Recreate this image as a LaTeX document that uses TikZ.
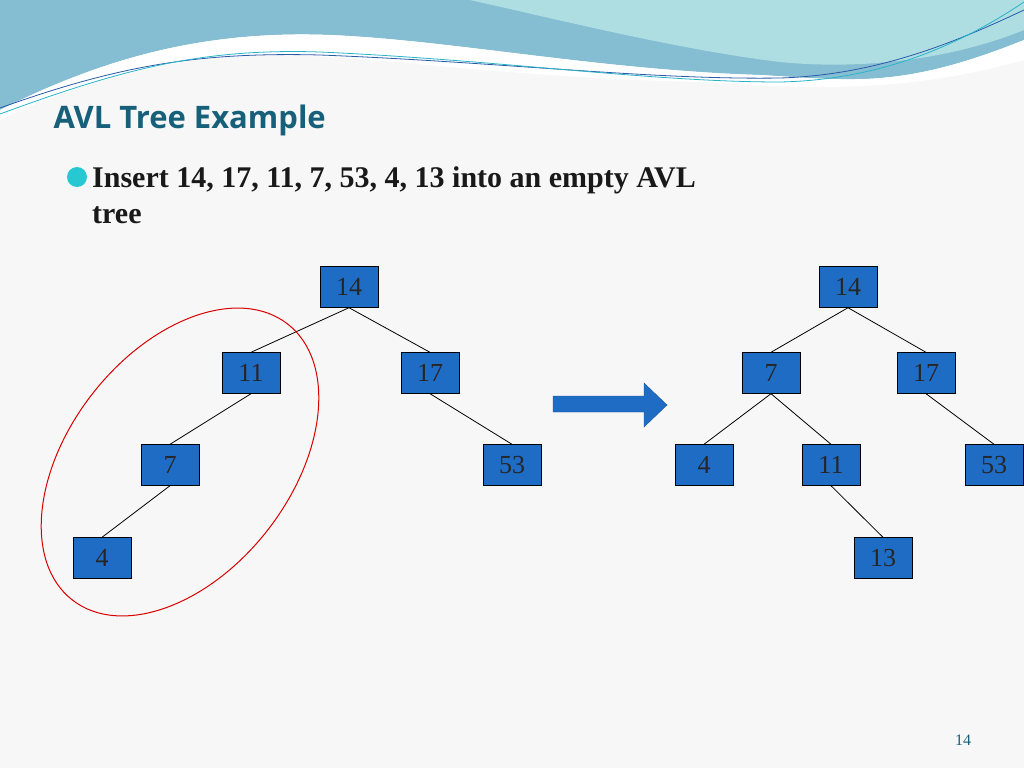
\documentclass[tikz,border=0pt]{standalone}
\usepackage{fontspec}
\usetikzlibrary{shapes.geometric}
\setmainfont{Liberation Serif}
\newfontfamily\titlefont{Open Sans}
\begin{document}
\begin{tikzpicture}[x=1pt,y=-1pt,
  nd/.style={draw=black,fill=nodeblue,minimum width=58pt,minimum height=41pt,inner sep=0pt,font=\fontsize{26}{26}\selectfont,text=black!85},
  ed/.style={draw=black,line width=0.8pt}]
\definecolor{nodeblue}{HTML}{1F6CC4}
\definecolor{titlecol}{HTML}{17607A}
\useasboundingbox (0,0) rectangle (1024,768);
\fill[black!3] (0,0) rectangle (1024,768);
% header waves
\fill[color={rgb,255:red,133;green,190;blue,210}] (0,0) -- (1024,0) -- (1024,40) .. controls (900,90) and (850,80) .. (760,75) .. controls (600,70) and (450,40) .. (330,35) .. controls (200,30) and (100,60) .. (0,110) -- cycle;
\fill[color={rgb,255:red,175;green,222;blue,226}] (470,0) -- (1024,0) -- (1024,30) .. controls (950,60) and (860,70) .. (780,62) .. controls (680,50) and (560,20) .. (470,0) -- cycle;
\fill[white] (0,110) .. controls (100,60) and (200,30) .. (330,35) .. controls (450,40) and (600,70) .. (760,75) .. controls (850,80) and (900,90) .. (1024,40) -- (1024,60) .. controls (900,95) and (800,88) .. (700,82) .. controls (500,78) and (350,52) .. (250,55) .. controls (150,60) and (60,90) .. (0,120) -- cycle;
\draw[color={rgb,255:red,40;green,90;blue,170},line width=0.8pt] (0,108) .. controls (120,65) and (200,52) .. (320,55) .. controls (500,62) and (650,80) .. (780,78) .. controls (880,75) and (960,40) .. (1024,10);
\draw[color={rgb,255:red,40;green,180;blue,200},line width=0.8pt] (0,114) .. controls (120,70) and (200,48) .. (320,52) .. controls (500,60) and (650,82) .. (780,82) .. controls (880,80) and (960,45) .. (1024,2);
% title
\node[anchor=west,font=\titlefont\bfseries\fontsize{31}{31}\selectfont,text=titlecol] (title) at (50,120) {AVL Tree Example};
\fill[color={rgb,255:red,40;green,200;blue,210}] (77,177) circle (10);
\node[anchor=north west,align=left,font=\bfseries\fontsize{30}{36}\selectfont,text=black!90,inner sep=0pt] (txt) at (92,166) {Insert 14, 17, 11, 7, 53, 4, 13 into an empty AVL\\tree};
% left tree
\node[nd] (a14) at (349,287) {14};
\node[nd] (a11) at (251,373) {11};
\node[nd] (a17) at (430,373) {17};
\node[nd] (a7) at (170,465) {7};
\node[nd] (a53) at (512,465) {53};
\node[nd] (a4) at (102,558) {4};
\draw[ed] (a14.south) -- (a11.north);
\draw[ed] (a14.south) -- (a17.north);
\draw[ed] (a11.south) -- (a7.north);
\draw[ed] (a17.south) -- (a53.north);
\draw[ed] (a7.south) -- (a4.north);
\node[draw=red!85!black,line width=1pt,ellipse,minimum width=350pt,minimum height=222pt,rotate=52] (ell) at (180,462) {};
% arrow
\fill[nodeblue,draw=nodeblue!80!black] (553,396) -- (644,396) -- (644,383) -- (667,405) -- (644,427) -- (644,412) -- (553,412) -- cycle;
% right tree
\node[nd] (b14) at (848,287) {14};
\node[nd] (b7) at (771,373) {7};
\node[nd] (b17) at (926,373) {17};
\node[nd] (b4) at (704,465) {4};
\node[nd] (b11) at (831,465) {11};
\node[nd] (b53) at (994,465) {53};
\node[nd] (b13) at (883,558) {13};
\draw[ed] (b14.south) -- (b7.north);
\draw[ed] (b14.south) -- (b17.north);
\draw[ed] (b7.south) -- (b4.north);
\draw[ed] (b7.south) -- (b11.north);
\draw[ed] (b17.south) -- (b53.north);
\draw[ed] (b11.south) -- (b13.north);
\node[font=\fontsize{16}{16}\selectfont,text=titlecol] (pg) at (963,740) {14};
\end{tikzpicture}
\end{document}
